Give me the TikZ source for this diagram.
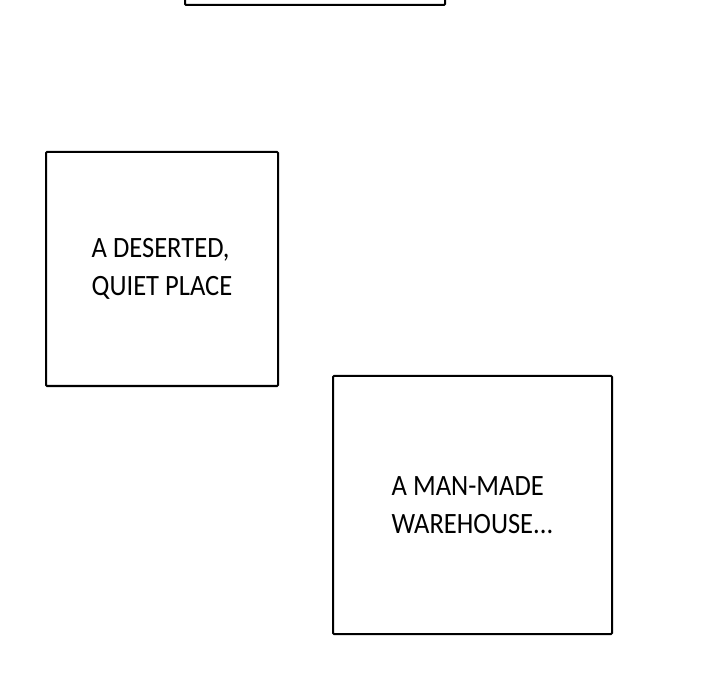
\documentclass[tikz,border=0pt]{standalone}
\usepackage{fontspec}
\setmainfont[FakeStretch=0.9]{Carlito}
\usetikzlibrary{positioning}

\begin{document}
\begin{tikzpicture}[x=1pt,y=-1pt,
   panel/.style={draw,line width=2pt,rounded corners=1pt,inner sep=0pt,align=left,
     font=\fontsize{29.5}{38}\selectfont}
  ]
 \useasboundingbox (0,0) rectangle (720,700);

 \node[panel,minimum width=260pt,minimum height=200pt] (top) at (315,-95) {};

 \node[panel,minimum width=232pt,minimum height=234pt] (quiet) at (162,269)
   {A DESERTED,\\QUIET PLACE};

 \node[panel,minimum width=279pt,minimum height=258pt] (warehouse) at (472.5,505)
   {A MAN-MADE\\WAREHOUSE...};

\end{tikzpicture}
\end{document}
